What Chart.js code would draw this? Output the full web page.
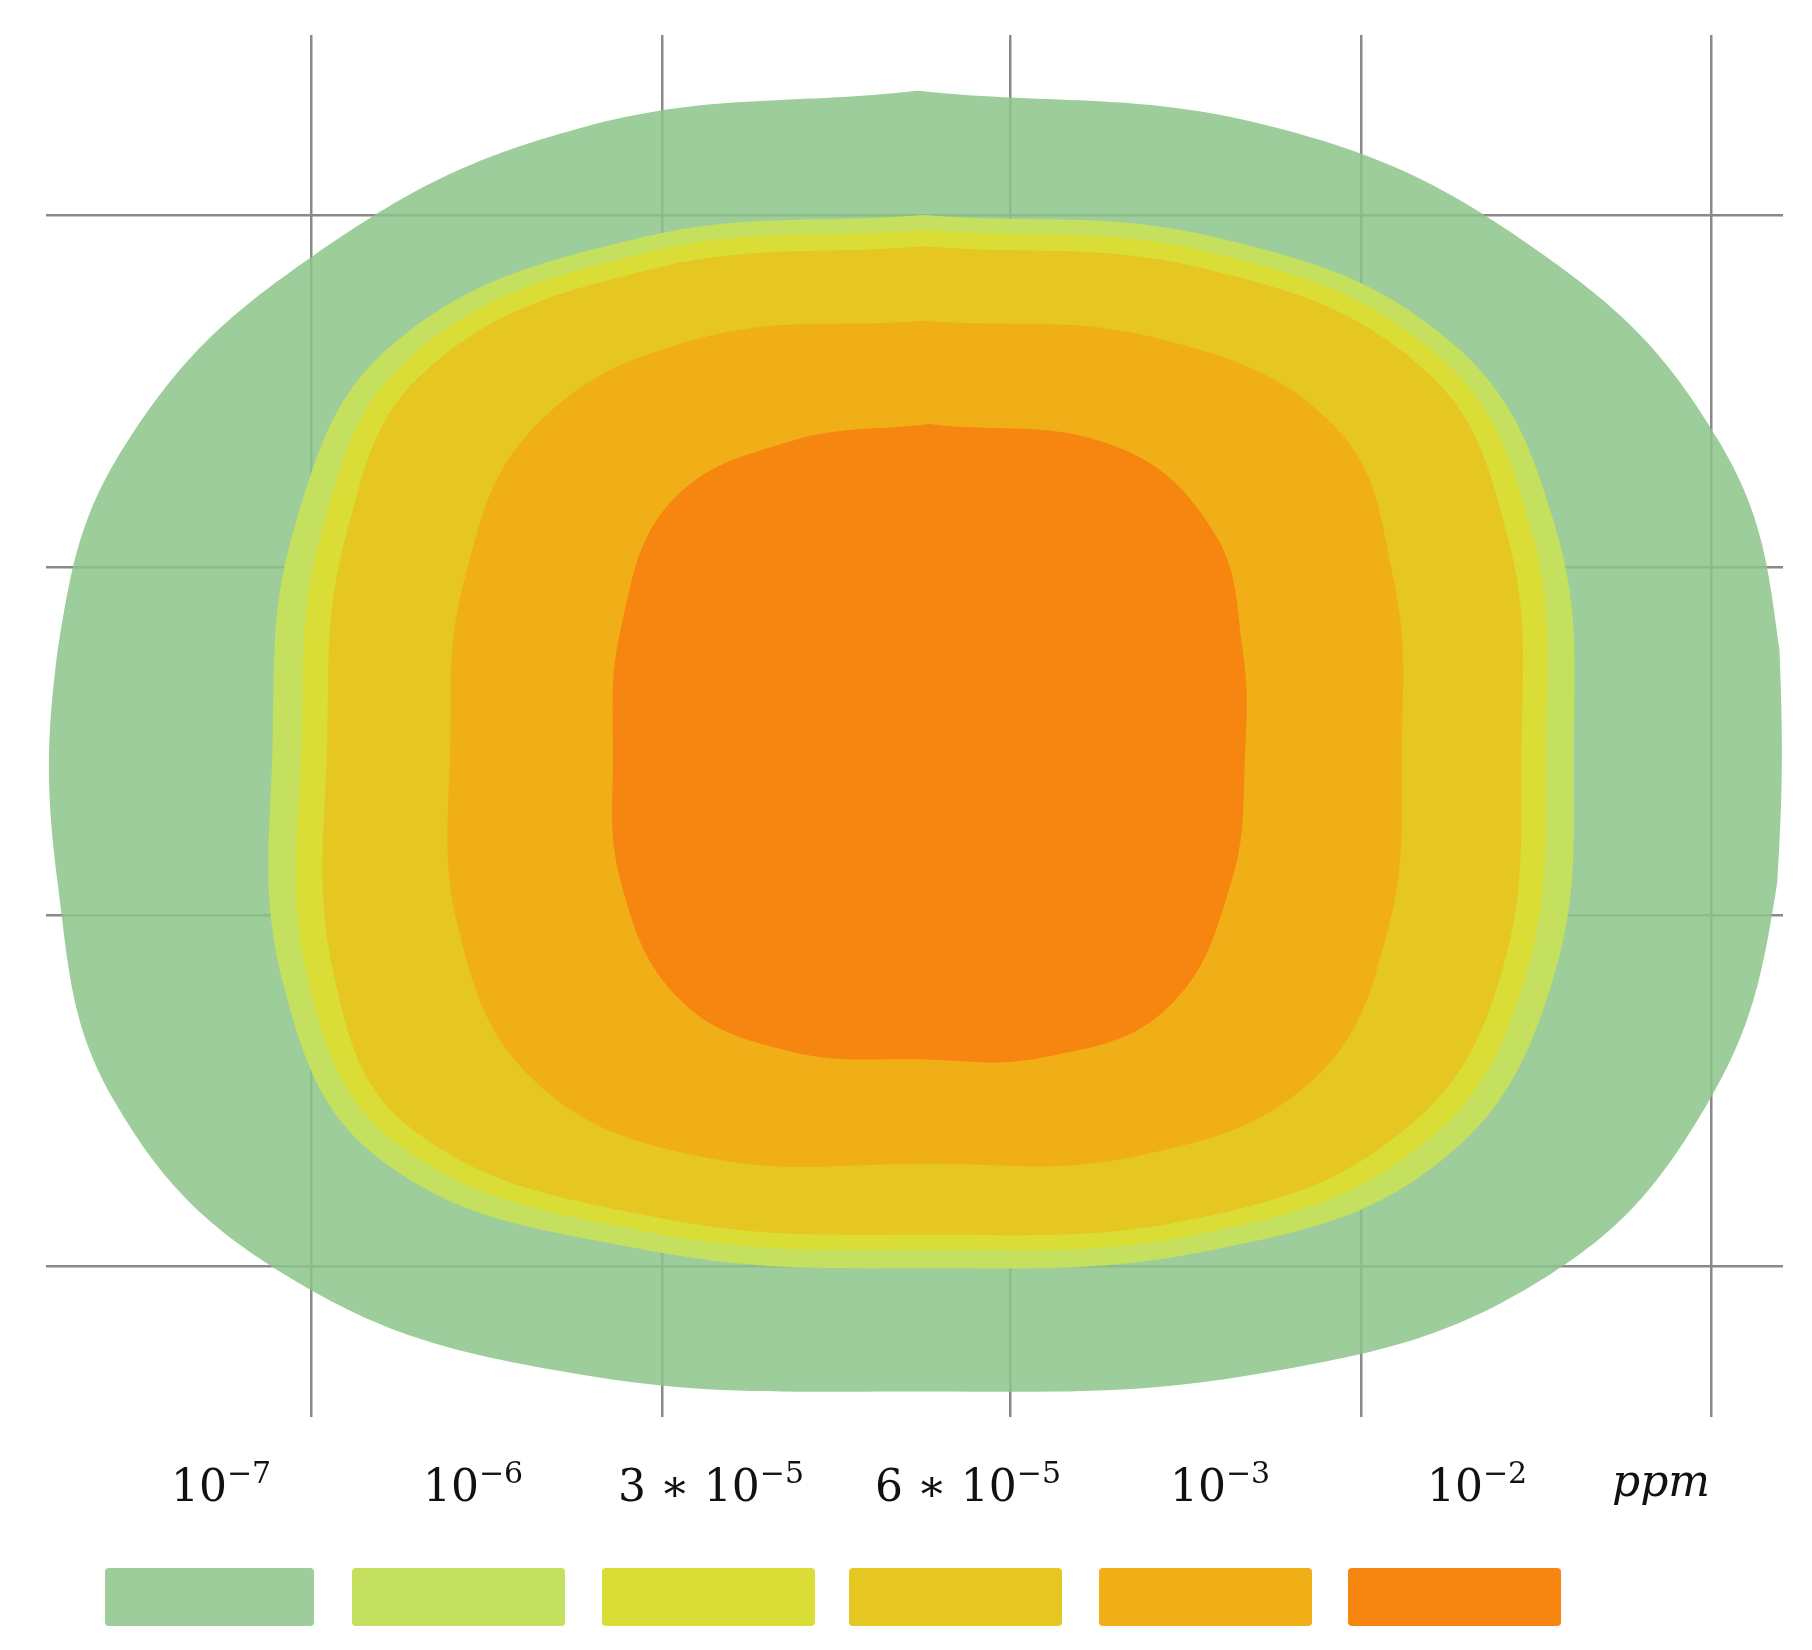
<!DOCTYPE html>
<html>
<head>
<meta charset="utf-8">
<script src="https://cdn.jsdelivr.net/npm/chart.js@4.4.1/dist/chart.umd.min.js"></script>
<style>
  body { margin: 0; background: #fff; }
  #wrap { position: relative; width: 1812px; height: 1650px; }
  #legend { position: absolute; left: 0; top: 0; width: 1812px; height: 1650px; pointer-events: none;
            font-family: "DejaVu Serif", "Liberation Serif", serif; color: #111; }
  .lab { position: absolute; top: 1455px; font-size: 44px; transform: translateX(-50%); white-space: nowrap; }
  .lab sup { font-size: 30px; vertical-align: 18px; }
  .sw { position: absolute; top: 1568px; height: 58px; border-radius: 4px; }
</style>
</head>
<body>
<div id="wrap">
  <canvas id="c" width="1812" height="1650"></canvas>
  <div id="legend"></div>
</div>
<script>
const levels = ["10<sup>\u22127</sup>", "10<sup>\u22126</sup>", "3 \u2217 10<sup>\u22125</sup>",
                "6 \u2217 10<sup>\u22125</sup>", "10<sup>\u22123</sup>", "10<sup>\u22122</sup>"];
const colors = ["rgba(139,196,136,0.85)", "#c4e05e", "#d9dd36", "#e6c621", "#f0ae17", "#f78610"];
const swatchColors = ["#9ccd9a", "#c4e05e", "#d9dd36", "#e6c621", "#f0ae17", "#f78610"];

const xGrid = [268, 570, 870, 1172, 1473];
const yGrid = [185, 488, 788, 1090];

const contour1 = [[790,78],[1100,110],[1330,220],[1480,380],[1532,560],[1530,760],[1470,950],[1330,1100],[1100,1180],[790,1198],[480,1180],[250,1100],[100,950],[50,760],[50,560],[110,380],[270,220],[500,110]];
const contour2 = [[795,185],[1050,205],[1250,295],[1338,450],[1355,640],[1335,850],[1240,1000],[1050,1075],[800,1092],[550,1075],[330,1000],[245,850],[235,640],[255,450],[340,295],[550,205]];
const contour3 = [[795,198],[1045,218],[1238,306],[1318,455],[1331,640],[1312,845],[1225,985],[1045,1060],[800,1076],[555,1060],[343,985],[266,845],[260,640],[278,455],[355,306],[555,218]];
const contour4 = [[795,212],[1040,232],[1226,318],[1298,462],[1310,640],[1292,840],[1210,972],[1040,1047],[800,1063],[560,1047],[355,972],[288,840],[282,640],[298,462],[368,318],[560,232]];
const contour5 = [[795,276],[1000,292],[1150,368],[1200,500],[1207,640],[1195,800],[1130,930],[980,995],[800,1002],[600,995],[460,930],[395,800],[388,640],[400,500],[460,368],[600,292]];
const contour6 = [[800,365],[960,384],[1045,458],[1070,560],[1072,650],[1060,760],[1005,868],[900,910],[790,912],[680,905],[585,860],[535,760],[528,650],[535,540],[578,432],[680,380]];
const contours = [contour1, contour2, contour3, contour4, contour5, contour6];

const datasets = contours.map((pts, i) => {
  const data = pts.map(p => ({ x: p[0], y: p[1] }));
  data.push(data[0]);
  return {
    data,
    showLine: true,
    fill: "shape",
    backgroundColor: colors[i],
    borderWidth: 0,
    borderColor: "transparent",
    pointRadius: 0,
    tension: 0.4,
    order: 10 - i
  };
});

const gridOpts = { color: "#8a8a8a", lineWidth: 2.5, borderDash: [3, 5], drawTicks: false };

new Chart(document.getElementById("c"), {
  type: "scatter",
  data: { datasets },
  options: {
    responsive: false,
    animation: false,
    layout: { padding: { left: 46, right: 29, top: 35, bottom: 233 } },
    plugins: { legend: { display: false }, tooltip: { enabled: false } },
    scales: {
      x: {
        type: "linear", min: 40, max: 1535,
        grid: gridOpts, border: { display: false },
        ticks: { display: false },
        afterBuildTicks: s => { s.ticks = xGrid.map(v => ({ value: v })); }
      },
      y: {
        type: "linear", min: 30, max: 1220, reverse: true,
        grid: gridOpts, border: { display: false },
        ticks: { display: false },
        afterBuildTicks: s => { s.ticks = yGrid.map(v => ({ value: v })); }
      }
    }
  }
});

// legend row
const legend = document.getElementById("legend");
const labCenters = [221, 473, 711, 968, 1220, 1477];
const swLeft = [105, 352, 602, 849, 1099, 1348];
levels.forEach((t, i) => {
  const lab = document.createElement("div");
  lab.className = "lab";
  lab.style.left = labCenters[i] + "px";
  lab.innerHTML = t;
  legend.appendChild(lab);
  const sw = document.createElement("div");
  sw.className = "sw";
  sw.style.left = swLeft[i] + "px";
  sw.style.width = (i === 0 ? 209 : 213) + "px";
  sw.style.background = swatchColors[i];
  legend.appendChild(sw);
});
const unit = document.createElement("div");
unit.className = "lab";
unit.style.left = "1661px";
unit.style.fontStyle = "italic";
unit.textContent = "ppm";
legend.appendChild(unit);
</script>
</body>
</html>
